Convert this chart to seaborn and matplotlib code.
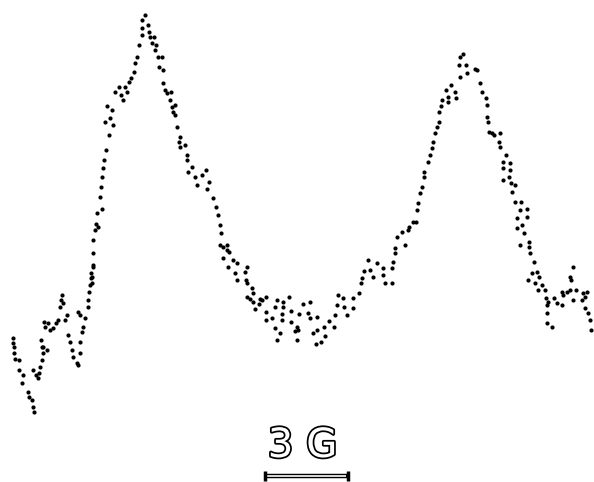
import matplotlib
matplotlib.use("Agg")
import matplotlib.pyplot as plt
import matplotlib.patheffects as pe
import numpy as np
import pandas as pd
import seaborn as sns

# dotted EPR trace (field in arb. units, signal as page depth)
left_wing_x = [13, 13, 14, 14, 15, 19, 19, 23, 22, 28, 29, 32, 33, 34,
               33, 36, 38, 39, 40, 42, 43, 42, 41, 43, 47, 45, 44, 48, 50, 53, 56, 58, 60, 61, 62, 63, 65, 67,
               68, 70, 72, 73, 77, 78, 80, 80, 82, 83, 85, 80, 78, 88, 88, 89, 90, 91, 91, 93]
left_wing_y = [338, 343, 347, 353, 359, 360, 370, 375, 383, 392, 397, 400, 407, 412,
               370, 375, 378, 373, 367, 360, 353, 347, 340, 347, 350, 327, 322, 323, 330, 328, 323, 320, 307, 300, 295, 303, 320, 315,
               335, 342, 350, 357, 363, 365, 353, 342, 332, 327, 318, 315, 312, 307, 300, 292, 285, 278, 273, 265]

peak1_rise_x = [92, 92, 93, 93, 93, 95, 96, 98, 97, 102, 100, 101, 102, 103, 104, 106, 109, 113, 110, 105,
                107, 112, 115, 119, 121, 123, 125, 127, 129, 131, 134, 135, 137, 139, 142, 142, 142, 145]
peak1_rise_y = [283, 277, 267, 253, 240, 230, 224, 227, 213, 209, 197, 187, 177, 168, 160, 150, 135, 125, 118, 122,
                106, 110, 92, 87, 95, 100, 87, 92, 82, 78, 72, 63, 57, 45, 35, 28, 20, 15]

peak1_fall_x = [148, 149, 150, 154, 152, 156, 155, 158, 162, 159, 163, 163, 165, 167, 171, 170, 172, 175, 173, 175,
                177, 180, 179, 180, 185, 187, 187, 192, 188, 195, 197, 202, 206, 209, 207, 213, 216, 218, 220, 221,
                220, 223, 227, 223, 228]
peak1_fall_y = [25, 32, 37, 37, 43, 45, 50, 57, 57, 67, 70, 83, 90, 93, 92, 100, 107, 105, 112, 115,
                127, 137, 142, 147, 145, 155, 160, 167, 172, 177, 185, 175, 170, 182, 189, 198, 207, 215, 225, 233,
                245, 247, 250, 258, 267]

trough_x = [227, 229, 233, 237, 235, 247, 245, 237, 246, 247, 252, 253, 247, 250, 253, 260, 262, 259, 266, 255,
            266, 275, 277, 283, 289, 283, 266, 272, 282, 291, 299, 303, 310, 282, 291, 275, 280, 277, 297, 295,
            298, 297, 308, 310, 317, 317, 313, 316, 321, 325, 324, 329, 334, 335, 337, 338, 343, 344, 347, 353,
            353, 359, 361, 362, 364, 368, 370, 373, 377, 383, 383, 385, 392, 392, 393, 395, 395, 397]
trough_y = [245, 252, 260, 263, 273, 267, 272, 280, 280, 283, 288, 293, 297, 299, 302, 299, 300, 304, 297, 309,
            312, 307, 300, 302, 297, 307, 320, 318, 314, 311, 314, 304, 302, 320, 322, 328, 333, 340, 327, 331,
            330, 340, 313, 318, 317, 330, 333, 344, 342, 336, 327, 321, 327, 315, 305, 295, 298, 307, 315, 298,
            308, 293, 283, 278, 271, 260, 270, 277, 263, 268, 275, 283, 283, 268, 262, 253, 248, 237]

peak2_rise_x = [402, 405, 408, 409, 413, 416, 417, 418, 420, 422, 424, 424, 428, 430, 432, 433, 435, 437, 439, 439,
                441, 442, 446, 448, 448, 451, 455, 456, 460, 463, 459, 460, 466, 467]
peak2_rise_y = [232, 245, 230, 227, 222, 222, 210, 203, 193, 187, 177, 172, 162, 155, 148, 142, 133, 127, 122, 112,
                106, 100, 90, 97, 102, 85, 92, 98, 57, 54, 65, 77, 65, 73]

peak2_fall_x = [475, 477, 480, 482, 486, 487, 487, 488, 489, 492, 494, 500, 499, 500, 506, 503, 510, 503, 510, 503,
                509, 511, 515, 512, 515, 521, 520, 527, 527, 517, 522, 517, 524, 529, 529, 520, 530, 534, 532, 537,
                539, 528, 535, 542, 538, 545, 546, 548, 547, 547, 547, 552]
peak2_fall_y = [69, 70, 83, 92, 98, 105, 117, 122, 132, 133, 135, 133, 142, 147, 155, 162, 163, 168, 170, 180,
                177, 183, 185, 192, 202, 202, 210, 209, 217, 218, 225, 228, 233, 242, 247, 245, 253, 262, 273, 272,
                277, 280, 283, 285, 290, 290, 298, 302, 305, 313, 323, 327]

right_wing_x = [554, 557, 562, 562, 563, 567, 570, 570, 573, 571, 576, 573, 582, 583, 587, 585, 585, 588, 590, 591]
right_wing_y = [298, 303, 305, 292, 295, 292, 290, 277, 267, 280, 290, 300, 300, 293, 292, 297, 308, 313, 320, 330]

scale_label = "3 G"
units_per_gauss = 83 / 3  # from the scale bar length

segments = {
    "left wing": (left_wing_x, left_wing_y),
    "peak 1 rise": (peak1_rise_x, peak1_rise_y),
    "peak 1 fall": (peak1_fall_x, peak1_fall_y),
    "trough": (trough_x, trough_y),
    "peak 2 rise": (peak2_rise_x, peak2_rise_y),
    "peak 2 fall": (peak2_fall_x, peak2_fall_y),
    "right wing": (right_wing_x, right_wing_y),
}
df = pd.concat(
    [pd.DataFrame({"field": xs, "depth": ys, "segment": name}) for name, (xs, ys) in segments.items()],
    ignore_index=True,
)

sns.set_style("white")
fig = plt.figure(figsize=(5.94, 4.82), dpi=100)
ax = fig.add_axes([0, 0, 1, 1])

sns.scatterplot(data=df, x="field", y="depth", color="black", s=9, linewidth=0, ax=ax, legend=False)

ax.set_xlim(0, 594)
ax.set_ylim(482, 0)
ax.set_axis_off()

# scale bar, 3 G long
bar_start = 265
bar_end = bar_start + 3 * units_per_gauss
bar_y = 476
ax.plot([bar_start, bar_end], [bar_y, bar_y], color="black", lw=3.2, solid_capstyle="butt")
ax.plot([bar_start + 2, bar_end - 2], [bar_y, bar_y], color="white", lw=1.2, solid_capstyle="butt")
ax.plot([bar_start, bar_end], [bar_y, bar_y], ls="none", marker="|", ms=7, mew=2.5, color="black")

ax.text((bar_start + bar_end) / 2 - 4, 446, scale_label, ha="center", va="center",
        fontsize=29, color="white", family="DejaVu Sans",
        path_effects=[pe.withStroke(linewidth=2.5, foreground="black")])

fig.savefig("out.png", dpi=100, facecolor="white")
